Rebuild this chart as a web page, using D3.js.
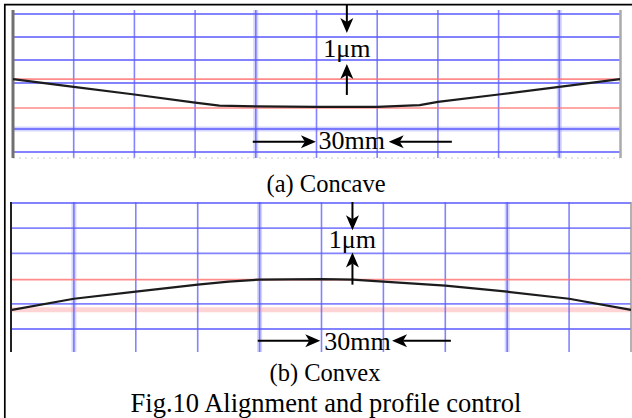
<!DOCTYPE html>
<html>
<head>
<meta charset="utf-8">
<script src="https://cdn.jsdelivr.net/npm/d3@7"></script>
<style>
  body { margin: 0; background: #fff; }
</style>
</head>
<body>
<svg id="chart" width="632" height="418"></svg>
<script>
// grid positions in division units
const gridCols = [1, 2, 3, 4, 5, 6, 7, 8, 9];
const concaveRows = [0, 1, 2, 3, 5, 6];
const convexRows = [0, 1, 2, 4, 5];
const concaveLightCols = [4, 9];
const convexLightCols = [1, 4, 8];
const concaveLightRows = [5];

// reference (red) levels
const concaveRed = [2.83, 4.09];
const convexRed = [3.04];
const convexPink = [4.24];

// measured profiles (x: division, y: level from top)
const concaveX = [0, 1, 2, 3, 3.4, 4, 5, 6, 6.7, 7, 8, 9, 10];
const concaveY = [2.83, 3.17, 3.5, 3.85, 3.98, 4.02, 4.04, 4.04, 3.96, 3.82, 3.5, 3.17, 2.83];
const convexX = [0, 1, 2, 3, 3.5, 4, 5, 5.5, 6, 7, 8, 9, 10];
const convexY = [4.24, 3.8, 3.52, 3.24, 3.12, 3.04, 3.02, 3.04, 3.12, 3.28, 3.52, 3.8, 4.24];

const captions = ["(a) Concave", "(b) Convex"];
const figTitle = "Fig.10 Alignment and profile control";
const heightLabel = "1\u03bcm";
const lengthLabel = "30mm";

const serif = "'Liberation Serif', 'Times New Roman', serif";

const svg = d3.select("#chart").attr("font-family", serif);
svg.append("rect").attr("width", 632).attr("height", 418).attr("fill", "#fff");

const panels = [
  {
    left: 13, right: 620, top: 14, bottom: 152, maxRow: 6,
    gridTop: 10, gridBottom: 158,
    rows: concaveRows, lightCols: concaveLightCols, lightRows: concaveLightRows,
    red: concaveRed, pink: [],
    xs: concaveX, ys: concaveY,
    leftEdge: { x: 13, color: "#707070", w: 3 },
    rightEdge: { x: 620.5, color: "#aaa", w: 2.5 },
    dotted: true,
    vArrow: { x: 5.5, top: 4, tip1: 0.83, tip2: 2.17, tail: 3.52, label: 1.87 },
    hArrow: { y: 5.55, a: 3.95, b: 4.99, c: 6.19, d: 7.23, tx: 5.58, ty: 5.87 },
    caption: { text: captions[0], x: 326, y: 192 }
  },
  {
    left: 12, right: 631, top: 203, bottom: 329, maxRow: 5,
    gridTop: 202, gridBottom: 352,
    rows: convexRows, lightCols: convexLightCols, lightRows: [],
    red: convexRed, pink: convexPink,
    xs: convexX, ys: convexY,
    leftEdge: { x: 11, color: "#222", w: 2 },
    rightEdge: { x: 631, color: "#999", w: 1.5 },
    dotted: false,
    vArrow: { x: 5.5, top: 202, tip1: 1.08, tip2: 1.96, tail: 3.24, label: 1.8 },
    hArrow: { y: 5.47, a: 3.97, b: 4.98, c: 6.14, d: 7.09, tx: 5.58, ty: 5.84 },
    caption: { text: captions[1], x: 325, y: 381 }
  }
];

function arrowHead(g, x1, y1, x2, y2) {
  // filled head with a small notch, tip at (x2, y2)
  const len = 15, half = 6.5, notch = 4;
  const a = Math.atan2(y2 - y1, x2 - x1);
  const ux = Math.cos(a), uy = Math.sin(a);
  const px = -uy, py = ux;
  const bx = x2 - ux * len, by = y2 - uy * len;
  const nx = x2 - ux * (len - notch), ny = y2 - uy * (len - notch);
  g.append("line")
    .attr("x1", x1).attr("y1", y1).attr("x2", nx).attr("y2", ny)
    .attr("stroke", "#000").attr("stroke-width", 2);
  g.append("path")
    .attr("d", `M${x2},${y2}L${bx + px * half},${by + py * half}L${nx},${ny}L${bx - px * half},${by - py * half}Z`)
    .attr("fill", "#000");
}

function drawPanel(p) {
  const g = svg.append("g");
  const x = d3.scaleLinear().domain([0, 10]).range([p.left, p.right]);
  const y = d3.scaleLinear().domain([0, p.maxRow]).range([p.top, p.bottom]);

  // light wide lines underneath
  g.selectAll(".lc").data(p.lightCols).join("line")
    .attr("x1", d => x(d)).attr("x2", d => x(d))
    .attr("y1", p.gridTop).attr("y2", p.gridBottom)
    .attr("stroke", "rgba(150,150,255,0.4)").attr("stroke-width", 5);
  g.selectAll(".lr").data(p.lightRows).join("line")
    .attr("x1", p.left).attr("x2", p.right)
    .attr("y1", d => y(d)).attr("y2", d => y(d))
    .attr("stroke", "rgba(150,150,255,0.4)").attr("stroke-width", 5);

  // pink wide reference
  g.selectAll(".pk").data(p.pink).join("line")
    .attr("x1", p.left).attr("x2", p.right)
    .attr("y1", d => y(d)).attr("y2", d => y(d))
    .attr("stroke", "rgba(255,160,160,0.45)").attr("stroke-width", 5);

  // blue grid
  g.selectAll(".vc").data(gridCols).join("line")
    .attr("x1", d => x(d)).attr("x2", d => x(d))
    .attr("y1", p.gridTop).attr("y2", p.gridBottom)
    .attr("stroke", "rgba(90,90,255,0.75)").attr("stroke-width", 1.6);
  g.selectAll(".hr").data(p.rows).join("line")
    .attr("x1", p.left).attr("x2", p.right)
    .attr("y1", d => y(d)).attr("y2", d => y(d))
    .attr("stroke", "rgba(90,90,255,0.75)").attr("stroke-width", 1.8);

  if (p.dotted) {
    g.append("line")
      .attr("x1", p.left).attr("x2", p.right)
      .attr("y1", p.gridBottom).attr("y2", p.gridBottom)
      .attr("stroke", "#ccc").attr("stroke-width", 1)
      .attr("stroke-dasharray", "2,4");
  }

  // red reference lines
  g.selectAll(".rd").data(p.red).join("line")
    .attr("x1", p.left).attr("x2", p.right)
    .attr("y1", d => y(d)).attr("y2", d => y(d))
    .attr("stroke", "rgba(255,110,110,0.8)").attr("stroke-width", 1.6);

  // edges
  g.append("line")
    .attr("x1", p.leftEdge.x).attr("x2", p.leftEdge.x)
    .attr("y1", p.gridTop).attr("y2", p.gridBottom)
    .attr("stroke", p.leftEdge.color).attr("stroke-width", p.leftEdge.w);
  g.append("line")
    .attr("x1", p.rightEdge.x).attr("x2", p.rightEdge.x)
    .attr("y1", p.gridTop).attr("y2", p.gridBottom)
    .attr("stroke", p.rightEdge.color).attr("stroke-width", p.rightEdge.w);

  // profile
  const pts = p.xs.map((v, i) => [v, p.ys[i]]);
  const line = d3.line().x(d => x(d[0])).y(d => y(d[1]));
  g.append("path").datum(pts)
    .attr("d", line)
    .attr("fill", "none")
    .attr("stroke", "#1c1c1c").attr("stroke-width", 2.2)
    .attr("stroke-linejoin", "round");

  // 1um arrows
  const va = p.vArrow;
  arrowHead(g, x(va.x), va.top, x(va.x), y(va.tip1));
  arrowHead(g, x(va.x), y(va.tail), x(va.x), y(va.tip2));
  g.append("text")
    .attr("x", x(va.x)).attr("y", y(va.label))
    .attr("text-anchor", "middle")
    .attr("font-family", serif)
    .attr("font-size", 26)
    .text(heightLabel);

  // 30mm arrows
  const ha = p.hArrow;
  arrowHead(g, x(ha.a), y(ha.y), x(ha.b), y(ha.y));
  arrowHead(g, x(ha.d), y(ha.y), x(ha.c), y(ha.y));
  g.append("text")
    .attr("x", x(ha.tx)).attr("y", y(ha.ty))
    .attr("text-anchor", "middle")
    .attr("font-family", serif)
    .attr("font-size", 26)
    .text(lengthLabel);

  svg.append("text")
    .attr("x", p.caption.x).attr("y", p.caption.y)
    .attr("text-anchor", "middle")
    .attr("font-family", serif)
    .attr("font-size", 24.5)
    .text(p.caption.text);
}

panels.forEach(drawPanel);

svg.append("text")
  .attr("x", 326).attr("y", 412)
  .attr("text-anchor", "middle")
  .attr("font-family", serif)
  .attr("font-size", 26.5)
  .text(figTitle);

// frame
svg.append("path")
  .attr("d", "M4.8,418V4.6H632")
  .attr("fill", "none")
  .attr("stroke", "#000").attr("stroke-width", 1.7);
</script>
</body>
</html>
